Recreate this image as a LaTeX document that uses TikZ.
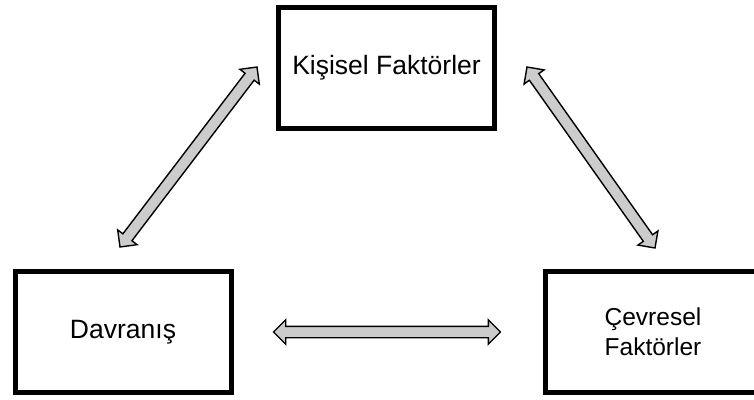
\documentclass[tikz,border=0pt]{standalone}
\usepackage{fontspec}
\setmainfont{Liberation Sans}
\usetikzlibrary{positioning,calc,shapes.arrows}
\definecolor{arrowGray}{rgb}{0.8, 0.8, 0.8}
\tikzstyle{factor}     = [draw, line width=5pt, minimum width=216pt, minimum height=121pt, align=center, font=\fontsize{26.5}{31}\selectfont]
\tikzstyle{twoWay}     = [double arrow, draw, fill=arrowGray, line width=1.4pt, inner xsep=0pt, inner ysep=5pt, double arrow head extend=6.5pt, double arrow tip angle=90]
\newcommand{\twoWayArrow}[2]{%
  \path let \p1 = ($(#2)-(#1)$), \n1 = {atan2(\y1,\x1)}, \n2 = {veclen(\x1,\y1)} in
    node[twoWay, minimum height={\n2}, rotate=\n1] at ($(#1)!0.5!(#2)$) {};
}

\begin{document}
\begin{tikzpicture}[x=1pt, y=1pt]
			\clip (0,0) rectangle (754,399);
			\node[factor]    (kisisel)   at (386.5,331) {Ki\c{s}isel Fakt\"{o}rler};
			\node[factor]    (davranis)  at (123,67)    {Davran\i\c{s}};
			\node[factor, font=\fontsize{24.5}{30}\selectfont] (cevresel)  at (653,67) {\c{C}evresel\\Fakt\"{o}rler};
			\coordinate (kd1) at ($(kisisel.west)+(-19pt,1pt)$);
			\coordinate (kd2) at ($(davranis.north)+(-3pt,22pt)$);
			\coordinate (kc1) at ($(kisisel.east)+(30pt,1pt)$);
			\coordinate (kc2) at ($(cevresel.north)+(2pt,21pt)$);
			\coordinate (dc1) at ($(davranis.east)+(40pt,0pt)$);
			\coordinate (dc2) at ($(cevresel.west)+(-42pt,0pt)$);
			\twoWayArrow{kd2}{kd1}
			\twoWayArrow{kc1}{kc2}
			\twoWayArrow{dc1}{dc2}
		\end{tikzpicture}
\end{document}
